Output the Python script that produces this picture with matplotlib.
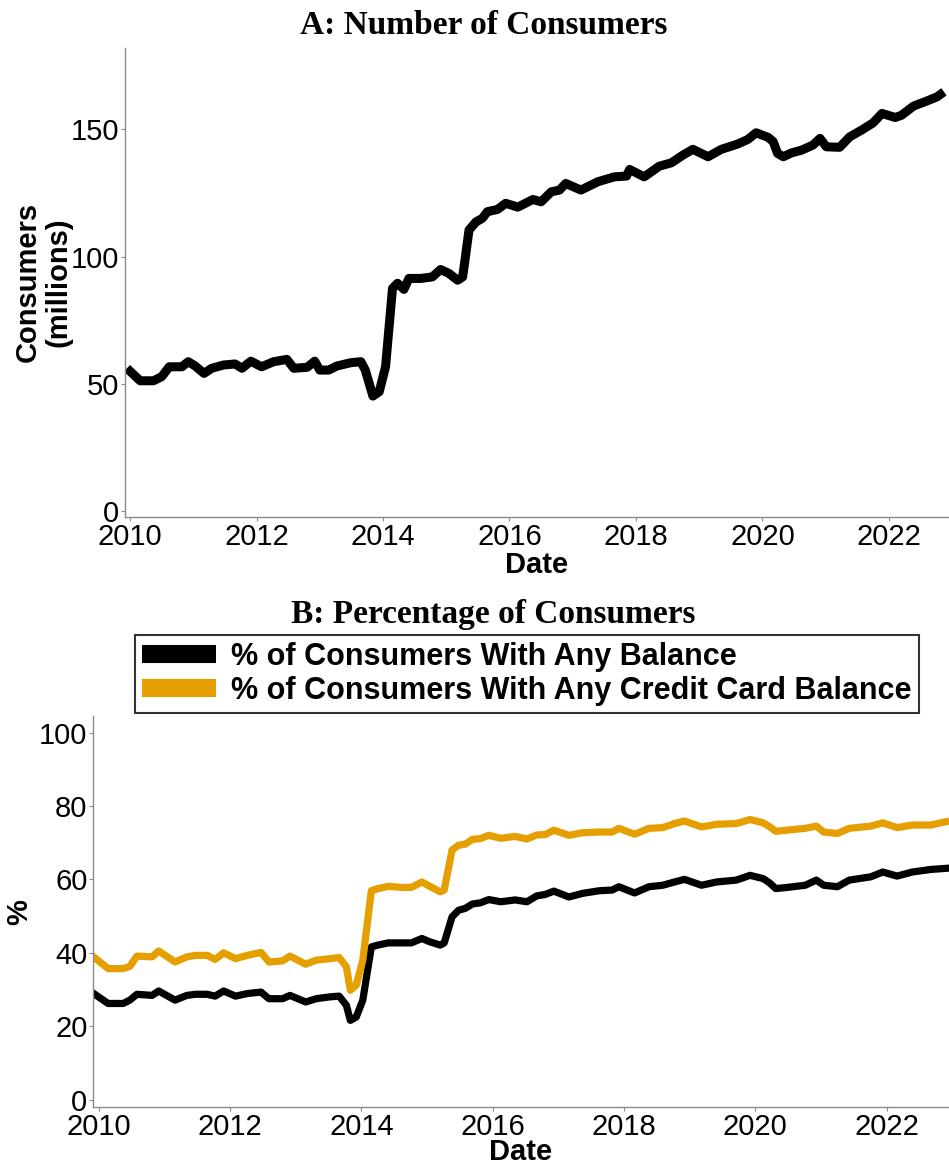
#!/usr/bin/env python3
"""
Consumers over time: headcount (A) and share with balances (B).
Values read off the reference figure; x is decimal year.
"""
import matplotlib
matplotlib.use("Agg")
import matplotlib.pyplot as plt
from matplotlib.lines import Line2D

ORANGE = "#E69F00"
SPINE = "#8a8a8a"
SANS = "Liberation Sans"
SERIF = "Liberation Serif"

# panel A: number of consumers (millions)
dates_a = [
    2009.95, 2010.16, 2010.37, 2010.50, 2010.62, 2010.82, 2010.92, 2011.03,
    2011.17, 2011.29, 2011.48, 2011.66, 2011.77, 2011.91, 2012.08, 2012.27,
    2012.48, 2012.59, 2012.80, 2012.92, 2013.00, 2013.14, 2013.27, 2013.49,
    2013.65, 2013.72, 2013.84, 2013.94, 2014.04, 2014.15, 2014.23, 2014.33,
    2014.41, 2014.60, 2014.78, 2014.91, 2015.04, 2015.18, 2015.26, 2015.36,
    2015.47, 2015.57, 2015.65, 2015.81, 2015.94, 2016.13, 2016.37, 2016.50,
    2016.66, 2016.79, 2016.89, 2017.13, 2017.40, 2017.66, 2017.85, 2017.90,
    2018.13, 2018.37, 2018.56, 2018.74, 2018.90, 2019.14, 2019.35, 2019.61,
    2019.77, 2019.90, 2020.09, 2020.17, 2020.24, 2020.33, 2020.46, 2020.62,
    2020.80, 2020.91, 2021.01, 2021.22, 2021.38, 2021.57, 2021.75, 2021.89,
    2022.10, 2022.20, 2022.39, 2022.57, 2022.76, 2022.87,
]
consumers = [
    56.2, 51.3, 51.3, 52.9, 56.8, 56.8, 58.8, 57.1,
    54.2, 56.2, 57.5, 57.9, 56.2, 59.0, 56.8, 58.8,
    59.7, 56.2, 56.6, 59.0, 55.5, 55.5, 57.1, 58.4,
    58.8, 55.5, 45.3, 47.0, 56.8, 87.6, 89.6, 87.2,
    91.5, 91.5, 92.1, 95.0, 93.5, 90.8, 92.1, 110.5,
    113.7, 115.1, 117.7, 118.6, 121.0, 119.5, 122.5, 121.6,
    125.5, 126.2, 128.8, 126.2, 129.5, 131.4, 131.7, 134.3,
    131.4, 135.6, 136.9, 139.9, 142.2, 139.3, 142.2, 144.3,
    146.1, 148.7, 146.9, 145.2, 140.6, 139.3, 140.8, 141.9,
    143.9, 146.5, 143.2, 143.0, 147.1, 149.8, 152.6, 156.3,
    154.7, 155.6, 159.2, 160.9, 162.8, 164.8,
]

# panel B: percentage of consumers
dates_b = [
    2009.92, 2010.14, 2010.37, 2010.47, 2010.58, 2010.81, 2010.91, 2011.16,
    2011.34, 2011.47, 2011.65, 2011.77, 2011.90, 2012.08, 2012.26, 2012.47,
    2012.59, 2012.80, 2012.91, 2013.03, 2013.15, 2013.31, 2013.52, 2013.66,
    2013.77, 2013.83, 2013.92, 2014.02, 2014.15, 2014.25, 2014.41, 2014.61,
    2014.76, 2014.92, 2015.04, 2015.20, 2015.26, 2015.38, 2015.48, 2015.58,
    2015.69, 2015.81, 2015.94, 2016.12, 2016.34, 2016.52, 2016.67, 2016.80,
    2016.93, 2017.16, 2017.37, 2017.62, 2017.82, 2017.92, 2018.16, 2018.38,
    2018.59, 2018.77, 2018.92, 2019.18, 2019.41, 2019.71, 2019.92, 2020.12,
    2020.22, 2020.31, 2020.48, 2020.76, 2020.93, 2021.04, 2021.25, 2021.43,
    2021.76, 2021.94, 2022.16, 2022.39, 2022.67, 2022.90,
]
pct_any = [
    28.9, 26.2, 26.2, 27.1, 28.7, 28.4, 29.6, 27.1,
    28.4, 28.7, 28.7, 28.2, 29.6, 28.2, 28.9, 29.3,
    27.5, 27.5, 28.4, 27.5, 26.6, 27.5, 28.0, 28.2,
    25.7, 21.6, 22.5, 27.1, 41.6, 42.1, 42.7, 42.7,
    42.7, 43.9, 43.0, 42.1, 42.7, 49.8, 51.6, 52.1,
    53.3, 53.6, 54.5, 53.9, 54.4, 53.9, 55.5, 55.9,
    56.8, 55.2, 56.2, 56.9, 57.1, 58.0, 56.3, 58.0,
    58.4, 59.3, 60.0, 58.4, 59.3, 59.8, 61.1, 60.2,
    59.0, 57.5, 57.8, 58.4, 59.8, 58.4, 58.0, 59.8,
    60.7, 62.0, 60.9, 62.0, 62.7, 63.0,
]
pct_card = [
    38.9, 35.7, 35.7, 36.3, 39.1, 38.9, 40.5, 37.5,
    38.9, 39.3, 39.3, 38.2, 40.0, 38.4, 39.3, 40.1,
    37.5, 37.8, 39.1, 38.0, 36.9, 38.0, 38.4, 38.7,
    36.2, 29.8, 31.2, 38.0, 56.9, 57.5, 58.1, 57.8,
    57.8, 59.3, 58.1, 56.6, 57.1, 68.0, 69.3, 69.6,
    70.9, 71.1, 72.0, 71.2, 71.7, 71.0, 72.1, 72.2,
    73.4, 72.0, 72.7, 72.9, 72.9, 73.9, 72.3, 73.9,
    74.1, 75.2, 75.9, 74.3, 75.0, 75.2, 76.3, 75.4,
    74.3, 73.1, 73.4, 73.9, 74.5, 72.9, 72.5, 73.9,
    74.5, 75.4, 74.1, 74.8, 74.8, 75.7,
]
year_ticks = [2010, 2012, 2014, 2016, 2018, 2020, 2022]
labels_b = ["% of Consumers With Any Balance",
            "% of Consumers With Any Credit Card Balance"]


def style_axes(ax):
    for side in ("top", "right"):
        ax.spines[side].set_visible(False)
    for side in ("left", "bottom"):
        ax.spines[side].set_color(SPINE)
        ax.spines[side].set_linewidth(1.0)
    ax.tick_params(axis="both", colors=SPINE, length=3, width=0.8,
                   labelcolor="black", labelsize=21, pad=1)
    ax.set_xticks(year_ticks)
    ax.set_xticklabels([str(y) for y in year_ticks], family=SANS, fontsize=21)


def main():
    fig = plt.figure(figsize=(9.49, 11.68), dpi=100)

    # --- panel A
    ax1 = fig.add_axes([125 / 949, 1 - 517 / 1168, 1 - 125 / 949, 469 / 1168])
    ax1.plot(dates_a, consumers, color="black", lw=6.5,
             solid_capstyle="butt", solid_joinstyle="round")
    ax1.set_xlim(2009.92, 2022.95)
    ax1.set_ylim(-2.2, 182)
    ax1.set_yticks([0, 50, 100, 150])
    ax1.set_yticklabels(["0", "50", "100", "150"], family=SANS, fontsize=21)
    style_axes(ax1)
    ax1.set_xlabel("Date", family=SANS, fontsize=21, fontweight="bold", labelpad=0)
    ax1.set_ylabel("Consumers\n(millions)", family=SANS, fontsize=21,
                   fontweight="bold", linespacing=1.1)
    ax1.yaxis.set_label_coords(-0.064, 0.501)
    fig.text(484 / 949, 1 - 25 / 1168, "A: Number of Consumers", family=SERIF,
             fontsize=24, fontweight="bold", ha="center", va="center")

    # --- panel B
    ax2 = fig.add_axes([93 / 949, 1 - 1107 / 1168, 1 - 93 / 949, 391 / 1168])
    ax2.plot(dates_b, pct_any, color="black", lw=5.2, label=labels_b[0],
             solid_joinstyle="round")
    ax2.plot(dates_b, pct_card, color=ORANGE, lw=5.2, label=labels_b[1],
             solid_joinstyle="round")
    ax2.set_xlim(2009.91, 2022.95)
    ax2.set_ylim(-2, 104.5)
    ax2.set_yticks([0, 20, 40, 60, 80, 100])
    ax2.set_yticklabels(["0", "20", "40", "60", "80", "100"], family=SANS, fontsize=21)
    style_axes(ax2)
    ax2.set_xlabel("Date", family=SANS, fontsize=21, fontweight="bold", labelpad=-2)
    ax2.set_ylabel("%", family=SANS, fontsize=21, fontweight="bold")
    ax2.yaxis.set_label_coords(-0.070, 0.499)
    fig.text(493 / 949, 1 - 614 / 1168, "B: Percentage of Consumers", family=SERIF,
             fontsize=24, fontweight="bold", ha="center", va="center")

    handles = [Line2D([], [], color="black", lw=13, solid_capstyle="butt"),
               Line2D([], [], color=ORANGE, lw=13, solid_capstyle="butt")]
    leg = fig.legend(handles, labels_b, loc="center",
                     bbox_to_anchor=(527 / 949, 1 - 674 / 1168),
                     prop={"family": SANS, "weight": "bold", "size": 22},
                     frameon=True, fancybox=False, handlelength=2.4,
                     handletextpad=0.5, labelspacing=0.12, borderpad=0.25,
                     borderaxespad=0)
    leg.get_frame().set_edgecolor("black")
    leg.get_frame().set_linewidth(1.5)

    fig.savefig("out.png", dpi=100)


if __name__ == "__main__":
    main()
